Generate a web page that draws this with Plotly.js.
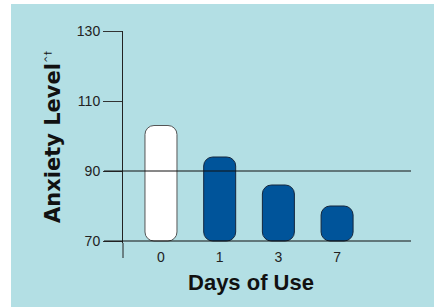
<!DOCTYPE html>
<html>
<head>
<meta charset="utf-8">
<script src="https://cdn.plot.ly/plotly-3.0.1.min.js"></script>
<style>
  html, body { margin: 0; padding: 0; background: #ffffff; }
  #chart { position: absolute; left: 11px; top: 4px; width: 423px; height: 303px; }
</style>
</head>
<body>
<div id="chart"></div>
<script>
// ---- data ----
const days = ['0', '1', '3', '7'];
const anxiety = [103, 94, 86, 80];
const baseline = 70;
const yTicks = [70, 90, 110, 130];
const refLines = [90, 70];
const barFill = ['#ffffff', '#00549a', '#00549a', '#00549a'];
const barEdge = ['#555555', '#14263d', '#14263d', '#14263d'];

const barSize = anxiety.map(v => v - baseline);

const traces = [{
  type: 'bar', x: days, base: anxiety.map(() => baseline), y: barSize,
  width: 0.545, hoverinfo: 'skip', showlegend: false,
  marker: { color: barFill, line: { color: barEdge, width: 1 }, cornerradius: 9 }
}];

const plotW = 256, plotH = 212;
const shapes = refLines.map(v => ({
  type: 'line', layer: 'above', xref: 'paper', yref: 'y',
  x0: -19 / plotW, x1: 288 / plotW, y0: v, y1: v,
  line: { color: '#111111', width: 1 }
}));
shapes.push({
  type: 'line', layer: 'above', xref: 'paper', yref: 'paper',
  x0: 0, x1: 0, y0: -15 / plotH, y1: 0,
  line: { color: '#222222', width: 1 }
});

const layout = {
  width: 423, height: 303,
  margin: { l: 112, r: 55, t: 27, b: 64, pad: 0 },
  paper_bgcolor: '#b3dfe4',
  plot_bgcolor: 'rgba(0,0,0,0)',
  font: { family: 'Liberation Sans, Arial, sans-serif', color: '#1a1a1a' },
  xaxis: {
    type: 'category',
    range: [-0.647, 3.714],
    showgrid: false, zeroline: false, showline: false,
    ticks: 'outside', ticklen: 1, tickcolor: 'rgba(0,0,0,0)',
    tickfont: { size: 14, color: '#222222' },
    title: { text: '<b>Days of Use</b>', font: { size: 22, color: '#111111' }, standoff: 10 }
  },
  yaxis: {
    range: [69.43, 130],
    tickvals: yTicks,
    showgrid: false, zeroline: false,
    showline: true, linecolor: '#222222', linewidth: 1,
    ticks: 'outside', ticklen: 19, tickcolor: '#333333', tickwidth: 1,
    tickfont: { size: 14, color: '#222222' },
    title: {
      text: '<b>Anxiety Level</b><sup><span style="font-size:9px">^†</span></sup>',
      font: { size: 21, color: '#111111', family: 'DejaVu Sans, sans-serif' }, standoff: 10
    }
  },
  shapes: shapes
};

Plotly.newPlot('chart', traces, layout, { staticPlot: true, displayModeBar: false });
</script>
</body>
</html>
